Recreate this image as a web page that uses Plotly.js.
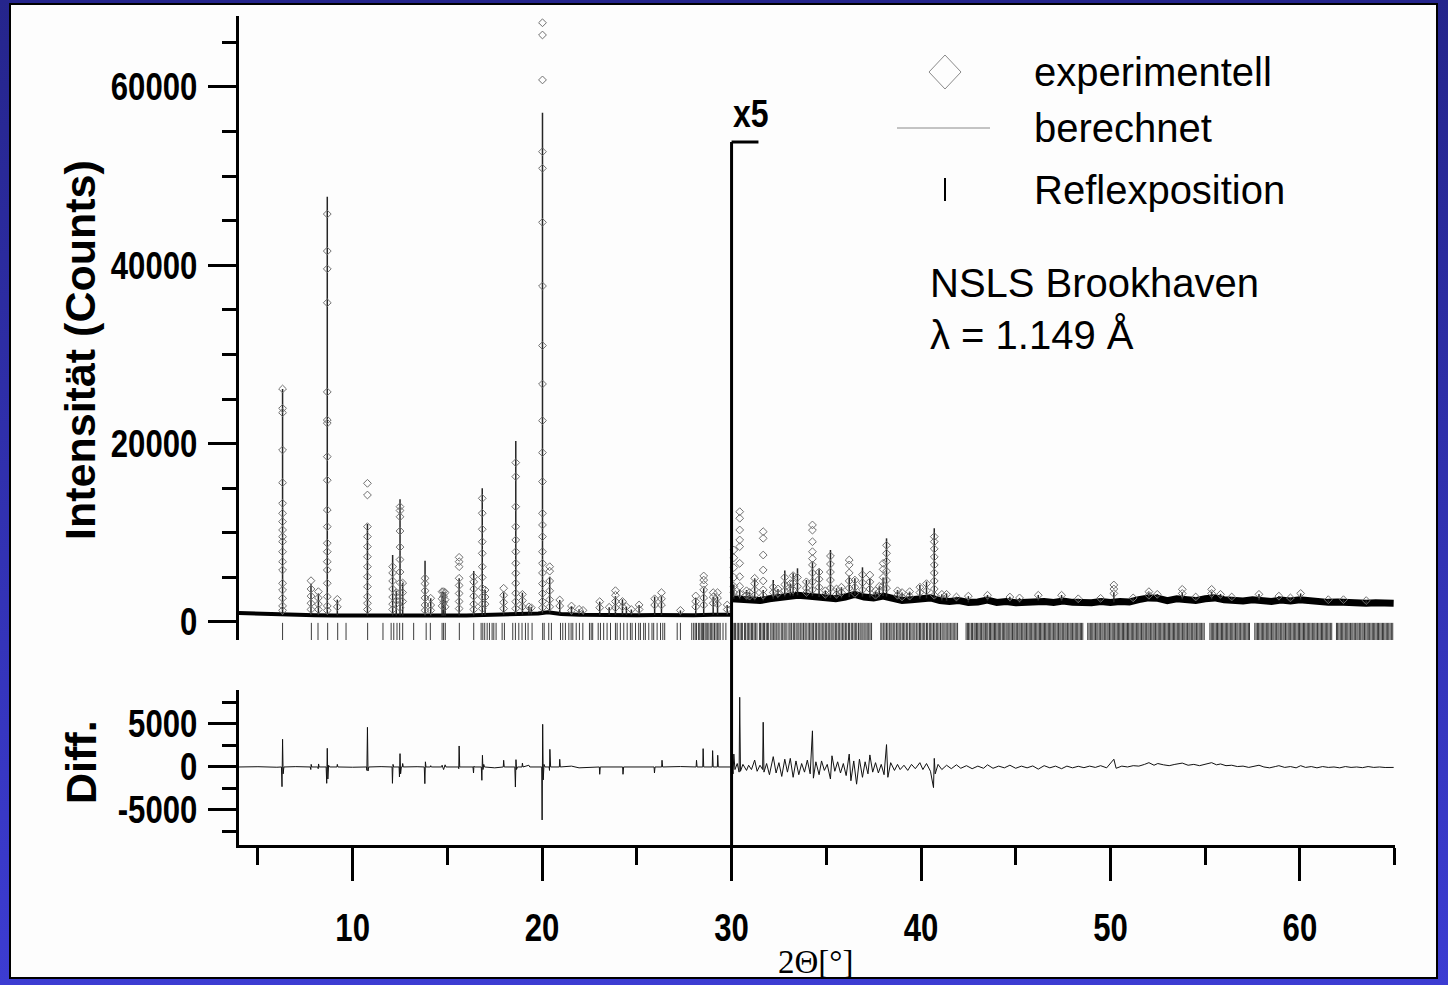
<!DOCTYPE html>
<html>
<head>
<meta charset="utf-8">
<script src="https://cdn.plot.ly/plotly-3.0.1.min.js"></script>
<style>
  html, body { margin:0; padding:0; }
  body { width:1448px; height:985px; overflow:hidden; position:relative;
         background: linear-gradient(to bottom, #25258c 0%, #3c3cd2 100%); }
  #panel { position:absolute; left:9px; top:3px; width:1425px; height:972px;
           background:#fdfdfd; border:2px solid #000; }
  #plot { position:absolute; left:0; top:0; width:1448px; height:985px; }
</style>
</head>
<body>
<div id="panel"></div>
<div id="plot"></div>
<script>
// ---------------- DATA ----------------
// Background band of the pattern (2theta, counts); above 30 deg values are the x5-scaled ones
const bgLowX = [4.0,4.5,5.0,5.5,6.0,6.6,7.0,7.5,8.0,9.0,10.0,11.0,12.0,13.0,14.0,15.0,16.0,17.0,18.0,19.0,19.8,20.3,20.7,21.0,22.0,23.0,24.0,25.0,26.0,27.0,28.0,29.0,29.95];
const bgLowY = [1000,960,920,880,820,790,780,770,760,740,720,700,720,700,700,720,740,800,820,850,950,1100,1000,900,820,760,800,750,780,720,760,800,820];
const bgHighX = [30.0,30.5,31.0,31.5,32.0,32.5,33.0,33.5,34.0,34.5,35.0,35.5,36.0,36.5,37.0,37.5,38.0,38.5,39.0,39.5,40.0,40.5,41.0,41.5,42.0,42.5,43.0,43.5,44.0,44.5,45.0,45.5,46.0,46.5,47.0,47.5,48.0,48.5,49.0,49.5,50.0,50.5,51.0,51.5,52.0,52.5,53.0,53.5,54.0,54.5,55.0,55.5,56.0,56.5,57.0,57.5,58.0,58.5,59.0,59.5,60.0,60.5,61.0,61.5,62.0,62.5,63.0,63.5,64.0,64.5,64.95];
const bgHighY = [2600,2500,2450,2400,2600,2700,2900,3000,2900,2800,2700,2600,2800,3100,2800,2700,2900,2600,2400,2500,2600,2700,2400,2300,2400,2200,2250,2450,2200,2300,2150,2200,2400,2300,2200,2350,2200,2100,2150,2300,2200,2300,2250,2500,2700,2650,2400,2600,2450,2400,2600,2700,2500,2450,2350,2500,2400,2300,2450,2350,2500,2350,2300,2200,2250,2150,2200,2100,2150,2050,2100];

// Reflections: position, foot level, calculated top, observed points along the peak
const peakPos  = [6.30,7.80,8.19,8.66,9.19,10.78,12.11,12.30,12.50,12.64,13.82,14.12,14.72,14.80,14.88,15.62,16.39,16.84,16.99,17.97,18.61,18.96,19.30,19.43,20.02,20.40,20.93,21.55,21.95,22.16,23.04,23.54,23.87,24.24,24.45,24.71,25.12,25.94,26.30,27.30,28.11,28.53,29.03,29.26,29.77,
  30.12,30.43,30.79,30.95,31.22,31.67,32.20,32.45,32.81,33.10,33.25,33.48,33.95,34.27,34.62,34.95,35.22,35.54,35.80,36.21,36.51,36.91,37.30,37.60,37.80,38.00,38.18,38.76,39.00,39.40,39.94,40.29,40.70,41.10,41.35,41.87,42.50,43.51,44.69,45.20,46.19,47.42,48.30,49.48,50.18,51.20,52.03,52.47,53.79,54.50,55.34,55.81,56.40,57.84,58.89,59.50,60.04,61.50,62.30,63.50];
const peakBase = [800,780,770,770,750,720,720,720,720,720,700,700,700,700,700,720,740,760,780,820,830,840,850,860,950,1050,900,850,830,820,760,780,790,800,790,770,750,780,770,730,760,780,800,800,810,
  2600,2550,2450,2450,2420,2400,2600,2650,2850,2950,2950,3000,2950,2900,2800,2700,2700,2600,2650,2800,3050,2850,2750,2700,2750,2900,2850,2550,2400,2450,2600,2650,2650,2400,2350,2300,2200,2400,2300,2150,2400,2350,2150,2300,2200,2300,2700,2650,2550,2400,2550,2650,2450,2450,2400,2350,2500,2250,2200,2100];
const peakTop  = [26130,4300,3200,47700,2500,10990,7510,3500,13760,4400,6880,2660,3400,3400,3300,4900,5720,14990,3600,3300,20300,3290,1750,1700,57100,5080,2470,1790,1420,1300,2280,1650,2900,2540,1720,1400,1910,2840,2900,1300,2700,3800,2800,2800,1910,
  4200,3590,3590,3300,4900,3600,4710,3700,5760,4300,5460,6020,4710,6760,5910,3500,8070,3780,3900,5200,4900,6130,4900,3500,4000,5000,9380,3590,3300,3400,4150,4530,10510,3100,3210,2840,2900,3030,2840,2700,3030,3030,2600,2650,3300,2700,3300,3150,3300,2800,3400,3150,2800,3150,2900,2700,3200,2500,2500,2400];
const obsLevels = [
  [26130,23960,23470,19290,15620,13310,12190,11250,10320,9570,9010,7880,6760,5830,4340,3590,2660,1800,1300],
  [4630,3700,2900,2100,1400],
  [3400,2700,2000,1400],
  [45750,41600,39600,35800,25800,22650,22300,18540,15900,12560,10690,8830,7880,6760,5830,4340,2840,1800,1300],
  [2540,1700],
  [15550,14240,10690,9570,8450,7320,6200,5080,3960,2840,2100,1400],
  [6200,5500,4600,3700,2800,2000,1400],
  [3300,2400],
  [12930,12500,11800,10200,8400,7000,5600,4400,3300,2400,1600],
  [4370,3300,2300],
  [4900,4300,3500,2700,1900,1300],
  [2660,1900,1300],
  [3400,2600,1800],
  [3400,2900,2200],
  [3300,2500,1700],
  [7250,6760,6200,4900,4100,3200,2300,1500],
  [5080,4500,3700,2900,2000,1400],
  [13870,12200,10400,9000,7700,6200,5000,3800,2800,2000,1500],
  [3590,2800,2000],
  [3780,3000,2200,1500],
  [17870,16300,12930,10690,9200,7880,6580,5460,4340,3220,2280,1500],
  [3100,2400,1700],
  [1700],
  [1600],
  [67200,65830,60790,52740,50880,44820,37680,31000,26690,22580,18990,15740,12190,10880,9570,7880,6580,5500,4300,3200,2300,1600],
  [6200,5700,4600,3500,2500,1700],
  [2470,1800],
  [1790,1300],
  [1420],
  [1300],
  [2280,1600],
  [1650],
  [3510,3000,2300,1600],
  [2300,1700],
  [1720],
  [1400],
  [1910,1400],
  [2600,1900],
  [3290,2600,1900],
  [1300],
  [2920,2300,1700],
  [5160,4700,4200,3600,2700,1900],
  [3290,2800,2100],
  [3290,2700,2000],
  [1910,1400],
  [8070,7200,6100,5000,4000,3300],
  [12370,11630,10320,9200,8450,6580,5080,4000,3200],
  [3500,3000],
  [3300,2900],
  [4900,4300,3600,3000],
  [10130,9380,7510,5830,4600,3600,3000],
  [3900,3300],
  [3700,3200],
  [5000,4200,3500],
  [4300,3600],
  [5200,4400,3600],
  [5000,4000],
  [4500,3800,3300],
  [10880,10300,9000,7880,7100,6400,5500,4500,3600],
  [5600,4800,3900],
  [3500,3100],
  [7400,6500,5600,4700,3800],
  [3700,3100],
  [3900,3300],
  [6950,6400,5500,4600,3800],
  [4700,3900,3200],
  [5300,4400,3600],
  [5270,4500,3700],
  [3500,3000],
  [4000,3400],
  [6580,5900,5000,4100],
  [8600,7700,6800,5700,4700,3800],
  [3500,3000],
  [3300,2800],
  [3400,2900],
  [3900,3300],
  [4300,3500],
  [9570,9000,8200,7300,6400,5500,4600,3700,3000],
  [3100],
  [3100],
  [2800],
  [2900],
  [3000],
  [2800],
  [2700],
  [3000],
  [3000],
  [2600],
  [2650],
  [4150,3700,3200],
  [2700],
  [3400,3000],
  [3100],
  [3660,3200],
  [2800],
  [3660,3200],
  [3100],
  [2800],
  [3100],
  [2900],
  [2700],
  [3200],
  [2500],
  [2500],
  [2400]
];

// Reflection positions (tick marks)
const reflPos = [6.30,7.82,8.17,8.68,9.21,9.65,10.79,11.60,12.03,12.17,12.34,12.48,12.64,13.22,13.88,14.10,14.72,14.80,14.89,15.63,16.39,16.78,16.87,16.97,17.10,17.22,17.36,17.45,17.57,17.89,18.01,18.45,18.59,18.77,18.94,19.12,19.26,19.47,20.03,20.11,20.35,20.49,20.97,21.09,21.23,21.41,21.53,21.62,21.80,21.97,22.15,22.50,22.59,22.67,22.96,23.08,23.25,23.43,23.61,23.87,23.96,24.13,24.31,24.49,24.66,24.75,24.93,25.10,25.19,25.36,25.45,25.63,25.80,25.89,26.07,26.25,26.37,26.47,27.13,27.30,27.90,28.00,28.08,28.15,28.25,28.32,28.40,28.46,28.52,28.60,28.66,28.72,28.80,28.88,28.95,29.02,29.10,29.18,29.25,29.33,29.40,29.55,29.70,
  30.08,30.16,30.21,30.30,30.37,30.45,30.53,30.57,30.68,30.74,30.83,30.90,30.97,
  31.05,31.11,31.19,31.26,31.34,31.47,31.53,31.61,31.69,31.74,31.83,31.90,31.96,
  32.07,32.14,32.22,32.29,32.36,32.45,32.51,32.62,32.68,32.77,32.83,32.92,
  33.03,33.09,33.17,33.26,33.33,33.41,33.50,33.56,33.65,33.72,33.80,33.88,33.94,
  34.04,34.11,34.19,34.26,34.33,34.42,34.48,34.57,34.63,34.72,34.79,34.87,34.95,
  35.02,35.10,35.16,35.25,35.31,35.40,35.48,35.55,35.63,35.69,35.78,35.86,35.93,
  36.01,36.08,36.17,36.23,36.32,36.39,36.47,36.55,36.61,36.70,36.78,36.84,36.93,
  37.00,37.09,37.16,37.24,37.31,37.39,37.88,37.94,
  38.03,38.10,38.18,38.25,38.33,38.41,38.47,38.56,38.62,38.71,38.78,38.85,38.93,
  39.01,39.08,39.15,39.24,39.30,39.39,39.46,39.53,39.62,39.68,39.77,39.84,39.92,39.98,
  40.06,40.14,40.20,40.29,40.35,40.44,40.51,40.58,40.66,40.73,40.81,40.88,40.95,
  41.03,41.11,41.17,41.26,41.33,41.41,41.48,41.55,41.63,41.70,41.78,41.85,41.93,
  42.38,42.45,42.51,42.58,42.66,42.72,42.80,42.86,42.93,42.99,
  43.06,43.13,43.19,43.27,43.33,43.40,43.47,43.53,43.61,43.67,43.74,43.81,43.88,43.94,
  44.01,44.08,44.15,44.21,44.29,44.35,44.42,44.49,44.55,44.63,44.69,44.76,44.83,44.90,44.96,
  45.03,45.10,45.17,45.23,45.30,45.37,45.44,45.50,45.57,45.64,45.71,45.77,45.84,45.91,45.98,
  46.04,46.11,46.18,46.25,46.31,46.38,46.45,46.52,46.58,46.65,46.72,46.79,46.85,46.92,46.99,
  47.06,47.12,47.19,47.26,47.33,47.39,47.46,47.53,47.60,47.66,47.73,47.80,47.87,47.93,
  48.00,48.07,48.14,48.20,48.27,48.34,48.41,48.47,48.54,48.80,48.87,48.94,
  49.01,49.07,49.14,49.21,49.28,49.34,49.41,49.48,49.55,49.61,49.68,49.75,49.82,49.88,49.95,
  50.02,50.09,50.15,50.22,50.29,50.36,50.42,50.49,50.56,50.63,50.69,50.76,50.83,50.90,50.96,
  51.03,51.10,51.17,51.23,51.30,51.37,51.44,51.50,51.57,51.64,51.71,51.77,51.84,51.91,51.98,
  52.04,52.11,52.18,52.25,52.31,52.38,52.45,52.52,52.58,52.65,52.72,52.79,52.85,52.92,52.99,
  53.06,53.12,53.19,53.26,53.33,53.39,53.46,53.53,53.60,53.66,53.73,53.80,53.87,53.93,
  54.00,54.07,54.14,54.20,54.27,54.34,54.41,54.47,54.54,54.61,54.68,54.74,54.81,54.88,54.95,
  55.25,55.32,55.38,55.45,55.52,55.59,55.65,55.72,55.79,55.86,55.92,55.99,
  56.06,56.13,56.19,56.26,56.33,56.40,56.46,56.53,56.60,56.67,56.73,56.80,56.87,56.94,
  57.01,57.07,57.14,57.21,57.28,57.34,57.62,57.69,57.76,57.82,57.89,57.96,
  58.03,58.09,58.16,58.23,58.30,58.36,58.43,58.50,58.57,58.63,58.70,58.77,58.84,58.90,58.97,
  59.04,59.11,59.17,59.24,59.31,59.38,59.44,59.51,59.58,59.65,59.71,59.78,59.85,59.92,59.98,
  60.05,60.12,60.19,60.25,60.32,60.39,60.46,60.52,60.59,60.66,60.73,60.79,60.86,60.93,
  61.00,61.07,61.14,61.20,61.27,61.34,61.41,61.47,61.54,61.61,61.68,61.93,61.99,
  62.06,62.13,62.20,62.26,62.33,62.40,62.47,62.53,62.60,62.67,62.74,62.80,62.87,62.94,
  63.01,63.07,63.14,63.21,63.28,63.34,63.41,63.48,63.55,63.61,63.68,63.75,63.82,63.88,63.95,
  64.02,64.09,64.15,64.22,64.29,64.36,64.42,64.49,64.56,64.63,64.69,64.76,64.83,64.90];

// Difference curve (obs - calc)
const diffX = [4.0,5.0,6.0,6.24,6.27,6.30,6.33,6.37,7.0,7.76,7.79,7.81,7.84,8.16,8.18,8.20,8.23,8.60,8.63,8.66,8.69,8.73,8.78,9.17,9.19,9.22,10.0,10.73,10.75,10.78,10.81,10.85,11.5,12.08,12.10,12.13,12.16,12.45,12.47,12.50,12.53,12.57,12.62,12.64,12.67,13.4,13.78,13.81,13.84,13.87,14.10,14.12,14.15,14.70,14.72,14.80,14.88,14.92,15.59,15.60,15.62,15.65,16.35,16.38,16.40,16.43,16.79,16.82,16.85,16.88,16.92,16.96,17.5,17.95,17.97,18.00,18.56,18.59,18.62,18.65,18.70,18.94,18.96,18.99,19.30,19.35,19.98,20.00,20.03,20.06,20.10,20.15,20.37,20.39,20.41,20.45,20.91,20.93,20.96,21.55,21.95,23.02,23.04,23.07,24.25,24.27,24.30,25.91,25.93,25.96,26.31,26.33,26.36,27.3,28.13,28.15,28.18,28.48,28.50,28.53,28.98,29.00,29.03,29.25,29.27,29.30,29.95,
  30.02,30.08,30.12,30.18,30.30,30.40,30.43,30.47,30.6,30.79,30.9,31.05,31.22,31.35,31.5,31.64,31.67,31.71,31.85,32.0,32.2,32.35,32.5,32.65,32.81,32.95,33.1,33.25,33.4,33.55,33.7,33.85,34.0,34.15,34.27,34.32,34.45,34.62,34.75,34.9,35.05,35.22,35.3,35.45,35.6,35.75,35.9,36.05,36.21,36.3,36.45,36.6,36.75,36.91,37.05,37.2,37.3,37.45,37.6,37.75,37.9,38.05,38.18,38.25,38.4,38.6,38.76,38.9,39.1,39.3,39.5,39.7,39.94,40.1,40.29,40.5,40.66,40.70,40.75,40.9,41.1,41.35,41.6,41.87,42.1,42.4,42.7,43.0,43.3,43.51,43.8,44.1,44.4,44.69,45.0,45.3,45.6,45.9,46.19,46.5,46.8,47.1,47.42,47.7,48.0,48.3,48.6,48.9,49.2,49.48,49.8,50.18,50.3,50.6,50.9,51.2,51.5,51.8,52.03,52.3,52.5,52.8,53.1,53.4,53.79,54.1,54.4,54.7,55.0,55.34,55.6,55.81,56.1,56.4,56.7,57.0,57.3,57.6,57.84,58.1,58.4,58.7,58.89,59.2,59.5,59.8,60.04,60.3,60.6,60.9,61.2,61.5,61.8,62.1,62.4,62.7,63.0,63.3,63.6,63.9,64.2,64.5,64.95];
const diffY = [0,30,-30,0,-2290,3220,-800,0,40,0,-300,300,0,0,-200,350,0,0,-1900,2170,-1400,200,0,0,300,0,-30,0,-400,4610,-470,0,40,0,-1900,300,0,0,-1160,1550,-800,0,0,400,0,30,0,-1940,600,0,0,150,0,0,200,-300,250,0,0,-200,2440,0,0,-700,100,0,0,-1550,1360,-300,300,0,-100,0,780,0,0,-2330,850,-300,0,0,450,0,200,0,0,-6160,4960,-1500,300,0,0,-400,2050,0,0,890,0,100,-100,0,-850,0,0,-850,0,0,-700,0,0,780,0,50,0,780,0,0,2130,0,0,1900,0,0,1360,0,0,
  0,-800,1500,-300,400,-600,8100,-500,300,-400,200,-300,800,-500,200,-300,5200,-600,400,-900,1200,-700,500,-1100,900,-600,1000,-1200,700,-900,400,-600,800,-800,4200,-1300,600,-900,700,-400,300,-1400,1300,-500,600,-700,400,-1000,1500,-1600,700,-2000,900,-1200,600,-800,1400,-600,500,-700,300,-900,2600,-1200,500,-400,300,-300,200,-400,300,-200,500,-300,400,-500,-2400,1000,-800,300,-300,200,-200,250,-150,150,-200,100,-150,250,-150,100,-100,200,-150,100,-100,120,-250,150,-100,100,-200,100,-100,80,-80,100,-50,150,-100,900,-150,100,0,150,100,300,500,200,400,250,150,300,450,200,300,150,300,500,250,350,150,200,50,100,-50,100,200,0,-100,50,150,-50,50,-100,150,-50,50,-100,50,-50,0,-100,50,-50,0,-80,50,-50,0,-60,-50];

const xTickVals = [10,20,30,40,50,60];
const xTickText = ['10','20','30','40','50','60'];
const yTickVals = [0,20000,40000,60000];
const yTickText = ['0','20000','40000','60000'];
const dTickVals = [-5000,0,5000];
const dTickText = ['-5000','0','5000'];

// ---------------- BUILD TRACES ----------------
const calcX = [], calcY = [];
peakPos.forEach((p,i)=>{ calcX.push(p,p,null); calcY.push(peakBase[i], peakTop[i], null); });
const obsX = [], obsY = [];
peakPos.forEach((p,i)=>{ obsLevels[i].forEach(v=>{ obsX.push(p); obsY.push(v); }); });

const traces = [
  {x:bgLowX, y:bgLowY, xaxis:'x', yaxis:'y', mode:'lines', line:{color:'#000', width:4}, hoverinfo:'skip'},
  {x:bgHighX, y:bgHighY, xaxis:'x', yaxis:'y', mode:'lines', line:{color:'#000', width:7}, hoverinfo:'skip'},
  {x:calcX, y:calcY, xaxis:'x', yaxis:'y', mode:'lines', line:{color:'#262626', width:1.5}, connectgaps:false, hoverinfo:'skip'},
  {x:obsX, y:obsY, xaxis:'x', yaxis:'y', mode:'markers', marker:{symbol:'diamond-open', size:6, color:'#707070', line:{width:1, color:'#707070'}}, hoverinfo:'skip'},
  {x:reflPos, y:reflPos.map(()=>-1120), xaxis:'x', yaxis:'y', mode:'markers', marker:{symbol:'line-ns-open', size:13, color:'#3c3c3c', line:{width:1, color:'#3c3c3c'}}, hoverinfo:'skip'},
  {x:diffX, y:diffY, xaxis:'x', yaxis:'y2', mode:'lines', line:{color:'#111', width:1}, hoverinfo:'skip'}
];

const W = 1156, H = 829, L = 239, T = 16;
const px = v => (v - L) / W;          // pixel -> paper x
const py = v => (T + H - v) / H;      // pixel -> paper y

const tickFont = {family:'"Liberation Sans", Arial, sans-serif', size:38, weight:'bold', color:'#000'};
const axBase = {showline:true, linewidth:3, linecolor:'#000', ticks:'outside', tickwidth:3, tickcolor:'#000', showgrid:false, zeroline:false, tickfont:tickFont, tickmode:'array'};
const sans = '"Liberation Sans", Arial, sans-serif';

const layout = {
  width:1448, height:985,
  margin:{l:L, r:1448-L-W, t:T, b:985-T-H},
  paper_bgcolor:'rgba(0,0,0,0)', plot_bgcolor:'rgba(0,0,0,0)',
  showlegend:false,
  xaxis: Object.assign({}, axBase, {range:[4.0,65.02], anchor:'y2', tickvals:xTickVals, ticktext:xTickText, ticklen:33,
          ticklabelstandoff:14,
          minor:{tickmode:'array', tickvals:[5,15,25,35,45,55,65], ticklen:17, tickwidth:3, tickcolor:'#000', ticks:'outside', showgrid:false}}),
  yaxis: Object.assign({}, axBase, {domain:[0.2473,1], range:[-2020,67960], anchor:'x', tickvals:yTickVals, ticktext:yTickText, ticklen:28,
          ticklabelstandoff:3,
          minor:{tickmode:'array', tickvals:[5000,10000,15000,25000,30000,35000,45000,50000,55000,65000], ticklen:14, tickwidth:3, tickcolor:'#000', ticks:'outside', showgrid:false}}),
  yaxis2: Object.assign({}, axBase, {domain:[0,0.187], range:[-9070,8950], anchor:'x', tickvals:dTickVals, ticktext:dTickText, ticklen:28,
          ticklabelstandoff:3,
          minor:{tickmode:'array', tickvals:[-7500,-2500,2500,7500], ticklen:14, tickwidth:3, tickcolor:'#000', ticks:'outside', showgrid:false}}),
  annotations: [
    {text:'Intensität (Counts)', xref:'paper', yref:'paper', x:px(80), y:py(350), xanchor:'center', yanchor:'middle', textangle:-90, showarrow:false,
     font:{family:sans, size:43, weight:'bold', color:'#000'}},
    {text:'Diff.', xref:'paper', yref:'paper', x:px(81), y:py(762), xanchor:'center', yanchor:'middle', textangle:-90, showarrow:false,
     font:{family:sans, size:43, weight:'bold', color:'#000'}},
    {text:'2Θ[°]', xref:'paper', yref:'paper', x:px(816), y:py(962), xanchor:'center', yanchor:'middle', showarrow:false,
     font:{family:'"Liberation Serif", "Times New Roman", serif', size:33, color:'#000'}},
    {text:'x5', xref:'x', yref:'paper', x:31.0, y:py(113), xanchor:'center', yanchor:'middle', showarrow:false,
     font:{family:sans, size:39, weight:'bold', color:'#000'}},
    {text:'experimentell', xref:'paper', yref:'paper', x:px(1032), y:py(72), xanchor:'left', yanchor:'middle', showarrow:false,
     font:{family:sans, size:40, color:'#000'}},
    {text:'berechnet', xref:'paper', yref:'paper', x:px(1032), y:py(128), xanchor:'left', yanchor:'middle', showarrow:false,
     font:{family:sans, size:40, color:'#000'}},
    {text:'Reflexposition', xref:'paper', yref:'paper', x:px(1032), y:py(190), xanchor:'left', yanchor:'middle', showarrow:false,
     font:{family:sans, size:40, color:'#000'}},
    {text:'NSLS Brookhaven', xref:'paper', yref:'paper', x:px(928), y:py(283), xanchor:'left', yanchor:'middle', showarrow:false,
     font:{family:sans, size:40, color:'#000'}},
    {text:'λ = 1.149 Å', xref:'paper', yref:'paper', x:px(928), y:py(335), xanchor:'left', yanchor:'middle', showarrow:false,
     font:{family:sans, size:40, color:'#000'}}
  ],
  shapes: [
    {type:'line', xref:'x', yref:'paper', x0:30, x1:30, y0:0, y1:py(142), line:{color:'#000', width:3}, layer:'above'},
    {type:'line', xref:'x', yref:'paper', x0:30, x1:31.42, y0:py(142), y1:py(142), line:{color:'#000', width:3}, layer:'above'},
    {type:'path', xref:'paper', yref:'paper', xsizemode:'pixel', ysizemode:'pixel', xanchor:px(945), yanchor:py(72),
     path:'M -16 0 L 0 17 L 16 0 L 0 -17 Z', line:{color:'#8a8a8a', width:1}},
    {type:'line', xref:'paper', yref:'paper', x0:px(897), x1:px(990), y0:py(128), y1:py(128), line:{color:'#8a8a8a', width:1}},
    {type:'line', xref:'paper', yref:'paper', x0:px(945), x1:px(945), y0:py(178), y1:py(201), line:{color:'#000', width:2}}
  ]
};

// narrow the bold tick labels (the reference uses a condensed bold face)
function condense(nodes, f, mode) {
  nodes.forEach(t => {
    const bb = t.getBBox();
    const ox = mode === 'right' ? bb.x + bb.width : bb.x + bb.width / 2;
    const oy = bb.y + bb.height / 2;
    const tr = t.getAttribute('transform') || '';
    t.setAttribute('transform', tr + ' translate(' + ox + ',' + oy + ') scale(' + f + ',1) translate(' + (-ox) + ',' + (-oy) + ')');
  });
}

Plotly.newPlot('plot', traces, layout, {staticPlot:true, displayModeBar:false}).then(gd => {
  const q = s => Array.from(gd.querySelectorAll(s));
  condense(q('.xtick text'), 0.82, 'center');
  condense(q('.ytick text'), 0.82, 'right');
  condense(q('.y2tick text'), 0.82, 'right');
  condense(q('.annotation-text').filter(t => t.textContent === 'x5'), 0.82, 'center');
});
</script>
</body>
</html>
